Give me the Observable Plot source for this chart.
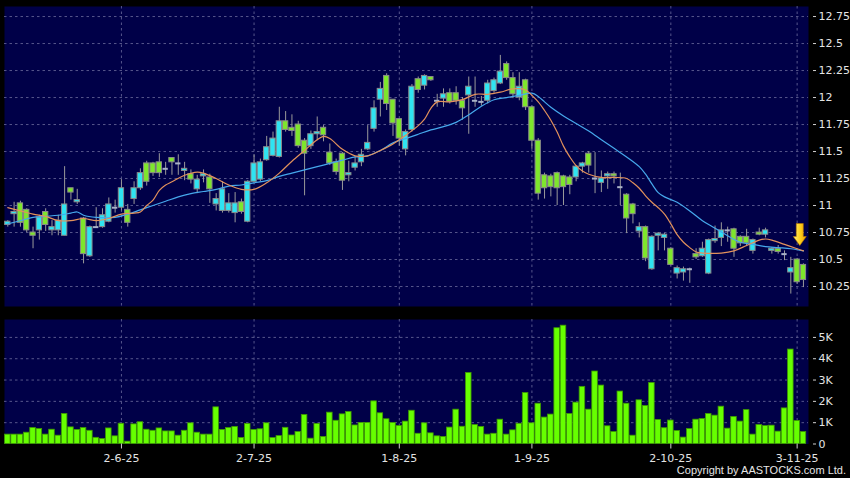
<!DOCTYPE html>
<html><head><meta charset="utf-8">
<script src="https://cdn.jsdelivr.net/npm/d3@7"></script>
<script src="https://cdn.jsdelivr.net/npm/@observablehq/plot@0.6"></script>
<style>
html,body{margin:0;padding:0;background:#000;}
#wrap{position:relative;width:850px;height:478px;background:#000;overflow:hidden;}
#wrap svg{position:absolute;left:0;}
#copy{position:absolute;right:4px;top:464px;color:#e6e6e6;font:11px "Liberation Sans",Arial,sans-serif;white-space:nowrap;}
</style></head><body><div id="wrap"><div id="copy">Copyright by AASTOCKS.com Ltd.</div></div>
<script>
// ---- data (trading-day index 0..126) ----
const opens = [10.82,10.92,11.02,10.96,10.75,10.77,10.94,10.77,10.77,10.72,
11.16,11.03,10.88,10.53,10.80,10.80,10.85,10.98,10.98,10.96,
11.06,11.16,11.39,11.39,11.40,11.34,11.44,11.39,11.32,11.29,
11.15,11.27,11.26,11.01,10.95,10.95,10.93,11.03,10.85,11.22,
11.24,11.42,11.46,11.45,11.78,11.72,11.75,11.60,11.55,11.66,
11.72,11.49,11.40,11.48,11.28,11.35,11.40,11.52,11.71,11.98,
12.20,11.98,11.80,11.52,11.70,12.17,12.11,12.19,11.97,11.99,
12.04,12.04,11.97,12.02,11.97,11.96,11.97,12.06,12.13,12.31,
12.18,12.00,12.16,11.91,11.60,11.28,11.27,11.30,11.27,11.26,
11.26,11.36,11.48,11.25,11.21,11.27,11.29,11.17,11.10,11.01,
10.76,10.80,10.41,10.72,10.70,10.60,10.37,10.38,10.41,10.55,
10.53,10.37,10.67,10.70,10.77,10.78,10.71,10.71,10.58,10.75,
10.73,10.58,10.60,10.55,10.38,10.50,10.45];
const closes = [10.85,10.94,10.84,10.77,10.72,10.89,10.82,10.80,10.86,11.01,
11.12,11.05,10.55,10.80,10.80,10.91,11.01,10.98,11.16,10.84,
11.16,11.30,11.22,11.30,11.30,11.34,11.40,11.39,11.34,11.24,
11.24,11.29,11.15,11.06,11.15,11.02,11.02,10.94,11.22,11.39,
11.40,11.54,11.62,11.78,11.70,11.69,11.55,11.48,11.66,11.68,
11.65,11.39,11.31,11.23,11.30,11.39,11.47,11.58,11.90,12.08,
11.94,11.76,11.62,11.68,12.10,12.07,12.20,12.16,11.97,12.03,
11.96,11.97,11.90,12.10,11.97,11.96,12.13,12.16,12.24,12.18,
12.03,12.10,11.91,11.60,11.11,11.16,11.17,11.16,11.17,11.19,
11.36,11.39,11.37,11.25,11.25,11.29,11.27,11.17,10.88,10.92,
10.80,10.51,10.71,10.74,10.73,10.45,10.42,10.41,10.41,10.52,
10.60,10.68,10.69,10.77,10.77,10.60,10.65,10.65,10.68,10.73,
10.77,10.60,10.57,10.55,10.42,10.29,10.31];
const highs = [10.86,11.03,11.04,10.97,10.80,10.91,10.97,10.86,10.91,11.36,
11.16,11.15,10.89,10.81,10.98,10.97,11.07,11.05,11.24,11.01,
11.22,11.34,11.41,11.40,11.48,11.40,11.44,11.47,11.40,11.33,
11.28,11.33,11.29,11.11,11.22,11.11,11.12,11.06,11.23,11.47,
11.43,11.64,11.68,11.91,11.87,11.84,11.78,11.62,11.69,11.82,
11.74,11.57,11.43,11.49,11.41,11.45,11.52,11.74,11.97,12.14,
12.22,11.98,11.80,11.70,12.12,12.19,12.21,12.19,12.03,12.08,
12.08,12.10,12.00,12.19,12.19,12.01,12.16,12.18,12.39,12.33,
12.23,12.23,12.17,11.92,11.62,11.30,11.29,11.31,11.28,11.28,
11.37,11.40,11.50,11.49,11.32,11.31,11.31,11.30,11.11,11.02,
10.84,10.81,10.72,10.75,10.74,10.61,10.44,10.43,10.42,10.60,
10.66,10.69,10.81,10.84,10.80,10.79,10.72,10.78,10.69,10.79,
10.79,10.61,10.63,10.58,10.52,10.51,10.46];
const lows = [10.80,10.80,10.80,10.75,10.60,10.68,10.76,10.72,10.72,10.72,
11.05,11.01,10.46,10.52,10.79,10.79,10.84,10.93,10.95,10.80,
11.01,11.14,11.18,11.27,11.26,11.28,11.28,11.28,11.23,11.20,
11.11,11.21,11.02,10.95,10.93,10.93,10.84,10.92,10.84,11.21,
11.22,11.41,11.45,11.44,11.68,11.64,11.53,11.09,11.52,11.60,
11.59,11.37,11.28,11.14,11.22,11.32,11.36,11.51,11.68,11.82,
11.88,11.64,11.55,11.46,11.68,12.04,12.07,12.15,11.91,11.91,
11.94,11.93,11.79,11.66,11.91,11.92,11.94,12.04,12.12,12.16,
11.99,11.97,11.88,11.52,11.05,11.06,11.08,11.00,11.00,11.10,
11.22,11.30,11.30,11.11,11.12,11.15,11.20,11.00,10.74,10.83,
10.70,10.48,10.40,10.58,10.58,10.44,10.32,10.30,10.28,10.50,
10.52,10.36,10.65,10.62,10.66,10.52,10.62,10.62,10.55,10.72,
10.70,10.55,10.55,10.49,10.18,10.27,10.24];
const volumesK = [0.44,0.44,0.44,0.53,0.75,0.70,0.44,0.67,0.39,1.41,
0.78,0.66,0.75,0.62,0.29,0.23,0.73,0.36,0.95,0.11,
0.92,1.02,0.67,0.62,0.73,0.59,0.59,0.39,0.62,0.97,
0.53,0.44,0.44,1.72,0.66,0.75,0.80,0.28,0.94,0.66,
0.69,0.97,0.28,0.37,0.76,0.40,0.56,1.36,0.25,0.94,
0.33,1.47,1.09,1.39,1.50,0.87,0.99,0.99,2.00,1.44,
1.16,0.99,0.84,1.05,1.56,0.48,0.97,0.50,0.36,0.33,
0.77,1.61,0.81,3.33,0.89,0.80,0.44,0.48,1.14,0.44,
0.64,0.95,2.39,0.97,1.89,1.24,1.38,5.43,5.55,1.41,
1.94,2.68,1.61,3.40,2.74,0.83,0.56,2.46,1.89,0.39,
2.05,1.78,2.86,1.13,0.74,1.10,0.61,0.30,0.70,1.14,
1.17,1.41,1.33,1.75,0.72,1.27,1.05,1.59,0.44,0.89,
0.84,0.86,0.58,1.67,4.43,1.08,0.56];
const ma10Idx = [0,2,4,6,8,10,12,14,16,18,20,21,22,23,24,25,26,28,30,31,33,35,37,39,41,43,45,47,49,50,51,53,55,57,59,61,63,65,66,67,68,70,72,74,76,78,80,82,83,84,85,86,87,88,89,90,91,92,94,96,98,99,100,101,102,103,104,105,106,107,108,109,110,113,115,117,119,120,121,123,125,126];
const ma10Val = [10.98,10.95,10.92,10.90,10.86,10.86,10.88,10.86,10.88,10.92,10.93,10.94,11.00,11.05,11.14,11.19,11.22,11.28,11.31,11.30,11.25,11.19,11.15,11.15,11.21,11.30,11.41,11.51,11.61,11.64,11.62,11.52,11.46,11.46,11.51,11.57,11.65,11.74,11.80,11.90,11.96,11.96,11.98,12.03,12.03,12.05,12.08,12.07,12.02,11.96,11.88,11.79,11.68,11.55,11.45,11.37,11.32,11.29,11.26,11.26,11.25,11.21,11.16,11.09,11.03,10.98,10.92,10.83,10.73,10.66,10.61,10.57,10.56,10.56,10.58,10.63,10.68,10.69,10.68,10.64,10.60,10.58];
const ma20Idx = [0,2,4,6,8,10,11,12,14,17,19,21,23,25,27,29,31,33,35,37,39,41,43,45,47,49,51,53,55,57,59,61,63,65,67,69,71,73,75,77,79,81,83,84,85,86,88,90,92,94,96,98,100,101,102,103,104,106,108,110,112,114,116,118,120,122,124,126];
const ma20Val = [10.83,10.86,10.89,10.90,10.91,10.93,10.94,10.91,10.89,10.89,10.92,10.96,11.00,11.04,11.08,11.11,11.13,11.15,11.18,11.19,11.21,11.23,11.27,11.30,11.33,11.36,11.39,11.42,11.45,11.46,11.51,11.58,11.62,11.66,11.70,11.73,11.77,11.84,11.92,11.98,12.00,12.02,12.04,12.01,11.96,11.91,11.83,11.76,11.69,11.61,11.53,11.45,11.36,11.29,11.20,11.12,11.08,11.03,10.95,10.86,10.79,10.72,10.66,10.64,10.62,10.61,10.60,10.58];
const dateTickIdx = [18, 39, 62, 83, 105, 125];
const dateTickLabels = ["2-6-25", "2-7-25", "1-8-25", "1-9-25", "2-10-25", "3-11-25"];
const priceTicks = [10.25, 10.5, 10.75, 11, 11.25, 11.5, 11.75, 12, 12.25, 12.5, 12.75];
const priceTickLabels = ["10.25", "10.5", "10.75", "11", "11.25", "11.5", "11.75", "12", "12.25", "12.5", "12.75"];
const volTicks = [0, 1, 2, 3, 4, 5];
const volTickLabels = ["0", "1K", "2K", "3K", "4K", "5K"];
const arrowMark = {i: 125.5, price: 10.625};

// ---- tables ----
const candles = opens.map((o, i) => ({i, o, c: closes[i], h: highs[i], l: lows[i]}));
const vols = volumesK.map((v, i) => ({i, v}));
const ma10 = ma10Idx.map((i, k) => ({i, v: ma10Val[k]}));
const ma20 = ma20Idx.map((i, k) => ({i, v: ma20Val[k]}));

const navy = "#000048";
const grid = "#56568c";
const upFill = "#2fe4f2";
const downFill = "#7ee62c";
const xDomain = [-0.52, 126.8];
const font = "DejaVu Sans, sans-serif";
const style = {background: "transparent", color: "#e4e4e4", fontFamily: font, fontSize: "11px", overflow: "visible"};

const wrap = document.getElementById("wrap");

const price = Plot.plot({
  width: 850, height: 312,
  marginLeft: 4, marginRight: 42, marginTop: 6, marginBottom: 6,
  style,
  x: {domain: xDomain, axis: null},
  y: {domain: [10.065, 12.843], axis: null, label: null},
  marks: [
    Plot.frame({fill: navy, stroke: null}),
    Plot.ruleY(priceTicks, {stroke: grid, strokeDasharray: "2.5,3"}),
    Plot.ruleX(dateTickIdx, {stroke: grid, strokeDasharray: "2.5,3"}),
    Plot.ruleX(candles, {x: "i", y1: "l", y2: "h", stroke: "#9a9a9a", strokeWidth: 1}),
    Plot.rect(candles.filter(d => d.c !== d.o), {
      x1: d => d.i - 0.42, x2: d => d.i + 0.42, y1: "o", y2: "c",
      fill: d => d.c > d.o ? upFill : downFill, stroke: "#8a8a8a", strokeWidth: 1
    }),
    Plot.ruleY(candles.filter(d => d.c === d.o), {
      y: "o", x1: d => d.i - 0.42, x2: d => d.i + 0.42, stroke: "#a9b2c8", strokeWidth: 2
    }),
    Plot.line(ma20, {x: "i", y: "v", stroke: "#46a8ec", strokeWidth: 1.2, curve: "catmull-rom"}),
    Plot.line(ma10, {x: "i", y: "v", stroke: "#e2915c", strokeWidth: 1.2, curve: "catmull-rom"}),
    Plot.axisY(priceTicks, {
      anchor: "right", tickSize: 3, tickPadding: 3, dx: 4, stroke: "#d0d0d0", label: null,
      tickFormat: d => priceTickLabels[priceTicks.indexOf(d)]
    })
  ]
});
price.style.top = "0px";
wrap.appendChild(price);

// arrow annotation, placed through the chart's own scales
{
  const tx = price.scale("x").apply(arrowMark.i);
  const ty = price.scale("y").apply(arrowMark.price);
  const ns = "http://www.w3.org/2000/svg";
  const defs = document.createElementNS(ns, "defs");
  defs.innerHTML = '<linearGradient id="ag" x1="0" x2="1" y1="0" y2="0"><stop offset="0" stop-color="#fff07a"/><stop offset="0.5" stop-color="#ffd21e"/><stop offset="1" stop-color="#f0a000"/></linearGradient>';
  price.appendChild(defs);
  const p = document.createElementNS(ns, "path");
  const d = [[-3.5,-22],[3.5,-22],[3.5,-9],[6.5,-9],[0,0],[-6.5,-9],[-3.5,-9]]
    .map(([a,b], k) => (k ? "L" : "M") + (tx + a) + "," + (ty + b)).join("") + "Z";
  p.setAttribute("d", d);
  p.setAttribute("fill", "url(#ag)");
  p.setAttribute("stroke", "#b87800");
  p.setAttribute("stroke-width", "0.6");
  price.appendChild(p);
}

const volume = Plot.plot({
  width: 850, height: 165,
  marginLeft: 4, marginRight: 42, marginTop: 6, marginBottom: 34.5,
  style,
  x: {domain: xDomain, axis: null, label: null},
  y: {domain: [0, 5.84], axis: null, label: null},
  marks: [
    Plot.frame({fill: navy, stroke: null}),
    Plot.ruleY(volTicks.filter(d => d > 0), {stroke: grid, strokeDasharray: "2.5,3"}),
    Plot.ruleX(dateTickIdx, {stroke: grid, strokeDasharray: "2.5,3"}),
    Plot.rect(vols, {x1: d => d.i - 0.44, x2: d => d.i + 0.44, y1: 0, y2: "v", fill: "#66ff00", stroke: "#3f9a00", strokeWidth: 0.8}),
    Plot.axisY(volTicks, {
      anchor: "right", tickSize: 3, tickPadding: 3, dx: 4, stroke: "#d0d0d0", label: null,
      tickFormat: d => volTickLabels[volTicks.indexOf(d)]
    }),
    Plot.axisX(dateTickIdx, {
      anchor: "bottom", tickSize: 5, tickPadding: 5, stroke: "#d0d0d0", label: null,
      tickFormat: d => dateTickLabels[dateTickIdx.indexOf(d)]
    })
  ]
});
volume.style.top = "313px";
wrap.appendChild(volume);
</script>
</body></html>
